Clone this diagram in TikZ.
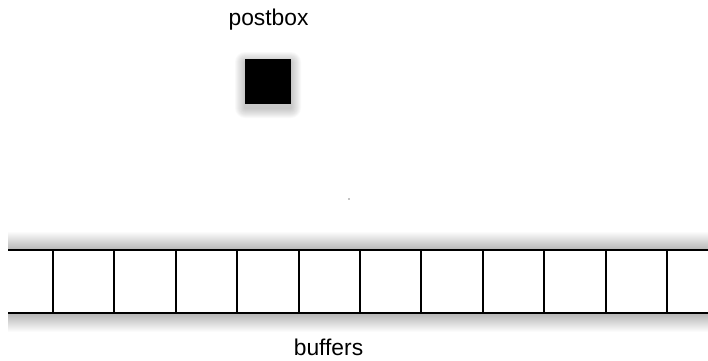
\documentclass[tikz,border=0pt]{standalone}
\usepackage{fontspec}
\setmainfont{Liberation Sans}
\begin{document}
\begin{tikzpicture}[x=1pt,y=-1pt,
  lbl/.style={font=\fontsize{22.8}{26}\selectfont, inner sep=0pt},
  cellline/.style={line width=2pt, black},
  railline/.style={line width=2pt, black},
  box/.style={fill=black, draw=none, minimum width=46pt, minimum height=45pt, inner sep=0pt}]
\useasboundingbox (0,0) rectangle (708,360);
% postbox shadow
\foreach \i in {1,...,10}{
  \fill[black, opacity=0.022, rounded corners=\i pt] (245-\i,62-\i) rectangle (291+\i,108+\i);
}
\node[box] (postbox) at (268,81.5) {};
\node[lbl, anchor=base] (postboxlabel) at (268.5,25) {postbox};
% small dot
\fill (349,199) circle (0.6pt);
% buffer strip shading
\shade[top color=white, bottom color=black!28] (8,231) rectangle (708,249);
\shade[top color=black!28, bottom color=white] (8,314) rectangle (708,332);
\fill[white] (8,250) rectangle (708,313);
\coordinate (tl) at (8,250);
\coordinate (tr) at (708,250);
\coordinate (bl) at (8,313);
\coordinate (br) at (708,313);
\draw[railline] (tl) -- (tr);
\draw[railline] (bl) -- (br);
\foreach \k in {0,...,10}{
  \draw[cellline] (53+61.4*\k,250) -- (53+61.4*\k,313);
}
\node[lbl, anchor=base] (bufferslabel) at (328.5,355.5) {buffers};
\end{tikzpicture}
\end{document}
